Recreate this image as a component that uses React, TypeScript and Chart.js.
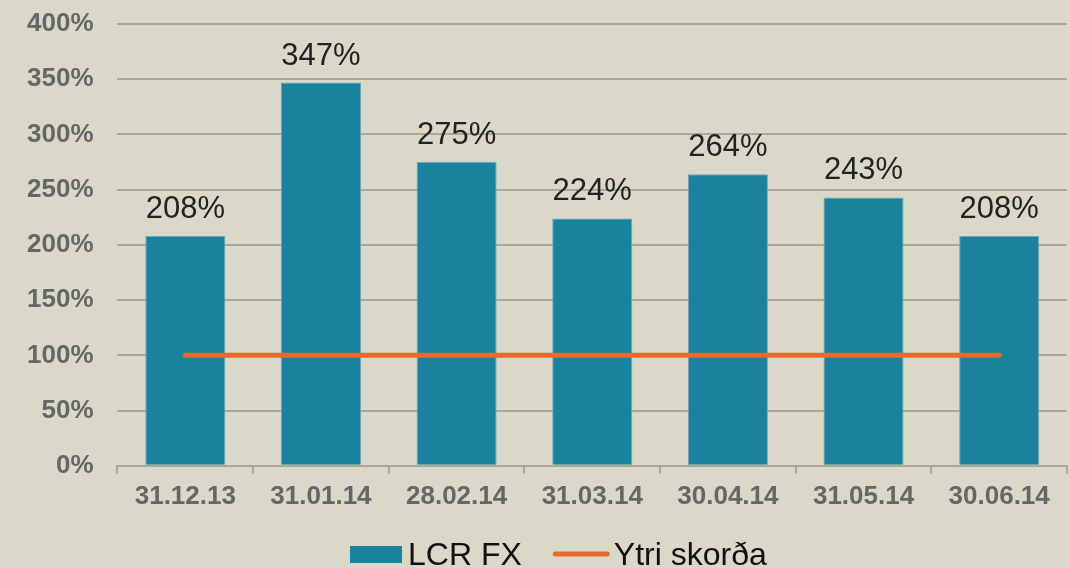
import React, { useEffect, useRef } from "react";
import { Chart, registerables } from "chart.js";

Chart.register(...registerables);

const categories = ["31.12.13", "31.01.14", "28.02.14", "31.03.14", "30.04.14", "31.05.14", "30.06.14"];
const lcrFx = [208, 347, 275, 224, 264, 243, 208];
const ytriSkorda = [100, 100, 100, 100, 100, 100, 100];
const seriesNames = ["LCR FX", "Ytri skorða"];

const BG = "#d9d8c9";
const BAR = "#1a829c";
const ORANGE = "#e8692e";
const GRID = "#a9a998";
const FONT = "'Liberation Sans', Arial, sans-serif";

const labelPlugin = {
  id: "barLabels",
  afterDatasetsDraw(chart: any) {
    const ctx = chart.ctx;
    const meta = chart.getDatasetMeta(0);
    ctx.save();
    ctx.font = `31px ${FONT}`;
    ctx.fillStyle = "#222222";
    ctx.textAlign = "center";
    ctx.textBaseline = "alphabetic";
    meta.data.forEach((el: any, i: number) => {
      ctx.fillText(`${lcrFx[i]}%`, el.x, el.y - 18);
    });
    ctx.restore();
  },
};

const legendPlugin = {
  id: "customLegend",
  afterDraw(chart: any) {
    const ctx = chart.ctx;
    ctx.save();
    ctx.font = `32px ${FONT}`;
    const w1 = ctx.measureText(seriesNames[0]).width;
    let x = 350;
    const baseline = 565;
    ctx.fillStyle = BAR;
    ctx.fillRect(x, 546, 52, 17);
    x += 58;
    ctx.fillStyle = "#111111";
    ctx.textBaseline = "alphabetic";
    ctx.textAlign = "left";
    ctx.fillText(seriesNames[0], x, baseline);
    x += w1 + 31;
    ctx.strokeStyle = ORANGE;
    ctx.lineWidth = 5;
    ctx.lineCap = "round";
    ctx.beginPath();
    ctx.moveTo(x + 2.5, 554);
    ctx.lineTo(x + 57 - 2.5, 554);
    ctx.stroke();
    x += 61;
    ctx.fillText(seriesNames[1], x, baseline);
    ctx.restore();
  },
};

export default function App() {
  const ref = useRef<HTMLCanvasElement | null>(null);
  useEffect(() => {
    document.body.style.margin = "0";
    document.body.style.background = BG;
    const chart = new Chart(ref.current!, {
      type: "bar",
      data: {
        labels: categories,
        datasets: [
          {
            type: "bar",
            label: seriesNames[0],
            data: lcrFx,
            backgroundColor: BAR,
            borderColor: "#6aa6b3",
            borderWidth: 1,
            categoryPercentage: 1,
            barPercentage: 0.59,
            order: 2,
          },
          {
            type: "line",
            label: seriesNames[1],
            data: ytriSkorda,
            borderColor: ORANGE,
            backgroundColor: ORANGE,
            borderWidth: 5,
            borderCapStyle: "round",
            pointRadius: 0,
            order: 1,
          } as any,
        ],
      },
      options: {
        animation: false,
        responsive: false,
        maintainAspectRatio: false,
        layout: { padding: { top: 0, right: 3, left: 3, bottom: 49 } },
        plugins: {
          tooltip: { enabled: false },
          legend: { display: false },
        },
        scales: {
          x: {
            offset: true,
            grid: {
              display: true,
              offset: true,
              drawOnChartArea: false,
              drawTicks: true,
              tickLength: 8,
              color: GRID,
              lineWidth: 2,
            },
            border: { display: true, color: GRID, width: 2 },
            ticks: {
              color: "#666666",
              font: { family: FONT, size: 26, weight: "bold" },
              padding: 7,
            },
          },
          y: {
            min: 0,
            max: 400,
            grid: { color: GRID, lineWidth: 2, drawTicks: false },
            border: { display: false },
            ticks: {
              stepSize: 50,
              color: "#666666",
              font: { family: FONT, size: 26, weight: "bold" },
              padding: 24,
              callback: (v: any) => `${v}%`,
            },
            afterFit: (scale: any) => {
              scale.paddingTop = 24;
              scale.paddingBottom = 0;
            },
          },
        },
      },
      plugins: [labelPlugin, legendPlugin],
    });
    return () => chart.destroy();
  }, []);
  return (
    <div style={{ width: 1070, height: 568, background: BG }}>
      <canvas ref={ref} width={1070} height={568} />
    </div>
  );
}
